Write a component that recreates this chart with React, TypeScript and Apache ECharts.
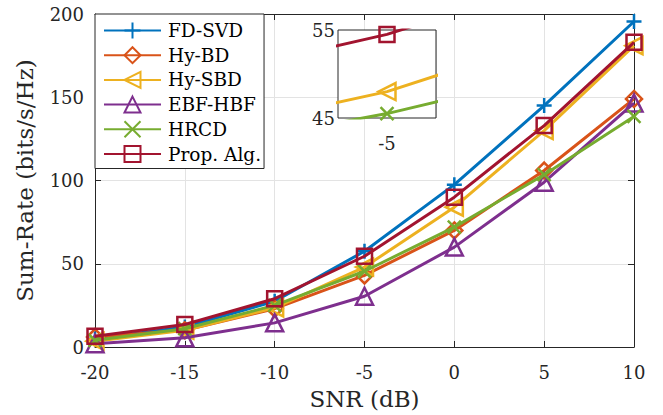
import React, { useEffect, useRef } from "react";
import * as echarts from "echarts";

const snr = [-20, -15, -10, -5, 0, 5, 10];
const seriesNames = ["FD-SVD", "Hy-BD", "Hy-SBD", "EBF-HBF", "HRCD", "Prop. Alg."];
const fdSvd = [5, 12, 27.5, 57.5, 97.5, 145, 195.5];
const hyBd = [6, 10, 23, 43, 70, 106, 149];
const hySbd = [3.5, 10, 23.5, 48, 84, 130, 181];
const ebfHbf = [2, 5.5, 14.5, 30.5, 60, 99, 146.5];
const hrcd = [4, 11, 25, 45.5, 72, 103.5, 138.5];
const propAlg = [6.5, 13.5, 29, 54.5, 90, 133, 183];
const yTicks = [0, 50, 100, 150, 200];

const seriesValues = [fdSvd, hyBd, hySbd, ebfHbf, hrcd, propAlg];
const colors = ["#0072BD", "#D95319", "#EDB120", "#7E2F8E", "#77AC30", "#A2142F"];
const symbols = [
  "path://M5,0L5,10M0,5L10,5",
  "diamond",
  "path://M0,5L8.66,0L8.66,10Z",
  "path://M5,0L10,8.66L0,8.66Z",
  "path://M0,0L10,10M10,0L0,10",
  "rect",
];
const symbolSizes = [15, 16, 17, 17, 13, 15];

const FONT = "DejaVu Serif";
const AXIS_COLOR = "#262626";

export default function App() {
  const ref = useRef<HTMLDivElement>(null);
  useEffect(() => {
    if (!ref.current) return;
    const chart = echarts.init(ref.current, null, { renderer: "svg" });

    const mkSeries = (i: number, inset: boolean) => ({
      type: "line",
      name: seriesNames[i],
      xAxisIndex: inset ? 2 : 0,
      yAxisIndex: inset ? 2 : 0,
      data: snr.map((x, k) => [x, seriesValues[i][k]]),
      symbol: symbols[i],
      symbolSize: symbolSizes[i],
      showAllSymbol: true,
      clip: true,
      lineStyle: { color: colors[i], width: 3 },
      itemStyle: { color: "rgba(0,0,0,0)", borderColor: colors[i], borderWidth: 2.5 },
      emphasis: { disabled: true },
      z: 2 + i,
    });

    const tickLabel = { fontFamily: FONT, fontSize: 18, color: AXIS_COLOR };

    chart.setOption({
      animation: false,
      textStyle: { fontFamily: FONT },
      grid: [
        { left: 95, top: 14, right: 29, bottom: 67, containLabel: false },
        {
          left: 338, top: 30, width: 98, height: 88, show: true,
          backgroundColor: "#ffffff", borderColor: AXIS_COLOR, borderWidth: 1, z: 10,
        },
      ],
      legend: {
        left: 95, top: 14, orient: "vertical",
        data: seriesNames,
        itemWidth: 57, itemHeight: 20, itemGap: 5.7,
        padding: [7, 3, 5, 8],
        borderColor: AXIS_COLOR, borderWidth: 1, borderRadius: 0,
        backgroundColor: "#ffffff",
        textStyle: { fontFamily: FONT, fontSize: 18.5, color: "#000", padding: [0, 0, 0, 2] },
        selectedMode: false,
        z: 20,
      },
      xAxis: [
        {
          type: "value", gridIndex: 0, min: -20, max: 10, interval: 5,
          name: "SNR (dB)", nameLocation: "middle", nameGap: 40,
          nameTextStyle: { fontFamily: FONT, fontSize: 23, color: AXIS_COLOR },
          axisLine: { onZero: false, lineStyle: { color: AXIS_COLOR, width: 1 } },
          axisTick: { inside: true, length: 6, lineStyle: { color: AXIS_COLOR } },
          axisLabel: { ...tickLabel, margin: 16 },
          splitLine: { show: true, lineStyle: { color: "#e3e3e3", width: 1 } },
        },
        {
          type: "value", gridIndex: 0, position: "top", min: -20, max: 10, interval: 5,
          axisLine: { onZero: false, lineStyle: { color: AXIS_COLOR, width: 1 } },
          axisTick: { inside: true, length: 6, lineStyle: { color: AXIS_COLOR } },
          axisLabel: { show: false },
          splitLine: { show: false },
        },
        {
          type: "value", gridIndex: 1, min: -5.25, max: -4.75, interval: 0.25,
          axisLine: { show: false },
          axisTick: { show: false },
          axisLabel: {
            ...tickLabel, margin: 16,
            formatter: (v: number) => (Math.abs(v + 5) < 1e-9 ? "-5" : ""),
          },
          splitLine: { show: true, lineStyle: { color: "#e3e3e3", width: 1 } },
        },
      ],
      yAxis: [
        {
          type: "value", gridIndex: 0, min: yTicks[0], max: yTicks[yTicks.length - 1], interval: 50,
          name: "Sum-Rate (bits/s/Hz)", nameLocation: "middle", nameGap: 59,
          nameTextStyle: { fontFamily: FONT, fontSize: 23, color: AXIS_COLOR },
          axisLine: { show: true, onZero: false, lineStyle: { color: AXIS_COLOR, width: 1 } },
          axisTick: { show: true, inside: true, length: 6, lineStyle: { color: AXIS_COLOR } },
          axisLabel: { ...tickLabel, margin: 11 },
          splitLine: { show: true, lineStyle: { color: "#e3e3e3", width: 1 } },
        },
        {
          type: "value", gridIndex: 0, position: "right", min: 0, max: 200, interval: 50,
          axisLine: { show: true, onZero: false, lineStyle: { color: AXIS_COLOR, width: 1 } },
          axisTick: { show: true, inside: true, length: 6, lineStyle: { color: AXIS_COLOR } },
          axisLabel: { show: false },
          splitLine: { show: false },
        },
        {
          type: "value", gridIndex: 1, min: 45, max: 55, interval: 10,
          axisLine: { show: false },
          axisTick: { show: false },
          axisLabel: { ...tickLabel, margin: 3 },
          splitLine: { show: false },
        },
      ],
      series: [
        ...seriesNames.map((_, i) => mkSeries(i, false)),
        ...seriesNames.map((_, i) => ({ ...mkSeries(i, true), z: 12 + i })),
      ],
    });
    return () => chart.dispose();
  }, []);
  return (
    <div
      ref={ref}
      style={{ position: "fixed", left: 0, top: 0, width: 663, height: 415, background: "#fff" }}
    />
  );
}
